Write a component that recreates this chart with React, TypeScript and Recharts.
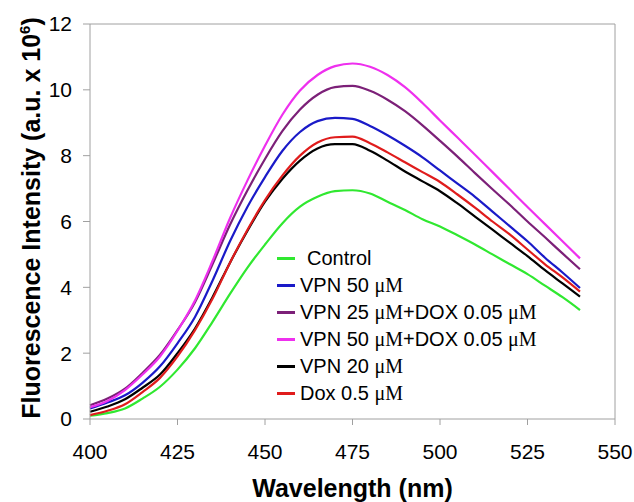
import { LineChart, Line, XAxis, YAxis, Legend, ReferenceLine } from "recharts";

// emission spectra, values (a.u. x 10^6)
const wavelengths = [400, 405, 410, 415, 420, 425, 430, 435, 440, 445, 450, 455, 460, 465, 470, 475, 480, 485, 490, 495, 500, 505, 510, 515, 520, 525, 530, 535, 540];
const control = [0.1, 0.18, 0.32, 0.62, 0.98, 1.5, 2.15, 2.95, 3.8, 4.6, 5.3, 5.95, 6.45, 6.75, 6.92, 6.95, 6.85, 6.6, 6.35, 6.07, 5.85, 5.58, 5.3, 5.0, 4.7, 4.4, 4.05, 3.7, 3.31];
const vpn50 = [0.32, 0.5, 0.72, 1.1, 1.6, 2.3, 3.1, 4.2, 5.4, 6.45, 7.35, 8.15, 8.72, 9.05, 9.15, 9.12, 8.9, 8.62, 8.3, 7.95, 7.55, 7.15, 6.75, 6.3, 5.85, 5.4, 4.9, 4.45, 3.98];
const vpn25Dox = [0.42, 0.62, 0.92, 1.4, 1.95, 2.7, 3.55, 4.7, 5.9, 6.95, 7.9, 8.75, 9.4, 9.85, 10.08, 10.12, 9.97, 9.7, 9.35, 8.92, 8.45, 7.97, 7.47, 6.98, 6.5, 6.0, 5.52, 5.03, 4.55];
const vpn50Dox = [0.36, 0.55, 0.88, 1.35, 1.9, 2.68, 3.6, 4.8, 6.1, 7.25, 8.3, 9.25, 9.98, 10.45, 10.72, 10.8, 10.7, 10.45, 10.08, 9.6, 9.07, 8.55, 8.03, 7.5, 6.97, 6.44, 5.92, 5.4, 4.88];
const vpn20 = [0.22, 0.38, 0.6, 0.95, 1.35, 2.0, 2.75, 3.7, 4.75, 5.72, 6.6, 7.3, 7.85, 8.22, 8.35, 8.35, 8.15, 7.85, 7.52, 7.22, 6.92, 6.55, 6.15, 5.75, 5.35, 4.95, 4.52, 4.12, 3.72];
const dox05 = [0.12, 0.25, 0.45, 0.82, 1.25, 1.9, 2.7, 3.65, 4.75, 5.75, 6.65, 7.4, 8.0, 8.4, 8.56, 8.58, 8.38, 8.1, 7.8, 7.5, 7.2, 6.82, 6.42, 6.0, 5.6, 5.15, 4.7, 4.3, 3.87];

const seriesNames = ["Control", "VPN 50 μM", "VPN 25 μM+DOX 0.05 μM", "VPN 50 μM+DOX 0.05 μM", "VPN 20 μM", "Dox 0.5 μM"];
const seriesColors = ["#30e830", "#1a1ac8", "#7c2078", "#ee30ee", "#000000", "#e01c1c"];
const seriesValues = [control, vpn50, vpn25Dox, vpn50Dox, vpn20, dox05];

const xTicks = [400, 425, 450, 475, 500, 525, 550];
const yTicks = [0, 2, 4, 6, 8, 10, 12];

const FONT = "Arial, 'Liberation Sans', Helvetica, sans-serif";
const AXIS = "#a0a0a0";

const rows = wavelengths.map((w, i) => {
  const r: Record<string, number> = { w };
  seriesValues.forEach((s, k) => (r["s" + k] = s[i]));
  return r;
});

// the μM parts are set in a serif face, as in the original figure
function LegendName({ text }: { text: string }) {
  const parts = text.split("μM");
  return (
    <span>
      {parts.map((p, i) => (
        <span key={i}>
          {p}
          {i < parts.length - 1 && <span style={{ fontFamily: "'Liberation Serif', 'Times New Roman', serif" }}>μM</span>}
        </span>
      ))}
    </span>
  );
}

// keep the legend in series order (recharts sorts the payload by name)
function renderLegend() {
  return (
    <div style={{ fontFamily: FONT, fontSize: 20, color: "#000" }}>
      {seriesNames.map((name, i) => (
        <div key={name} style={{ display: "flex", alignItems: "center", height: 27, whiteSpace: "nowrap" }}>
          <span style={{ display: "inline-block", width: 18, height: 3, background: seriesColors[i], marginRight: i === 0 ? 12 : 5 }} />
          <LegendName text={name} />
        </div>
      ))}
    </div>
  );
}

function YTitle() {
  return (
    <text transform="translate(40,218) rotate(-90)" textAnchor="middle" fontFamily={FONT} fontWeight="bold" fontSize={25} fill="#000">
      Fluorescence Intensity (a.u. x 10
      <tspan dy={-10} fontSize={15}>6</tspan>
      <tspan dy={10}>)</tspan>
    </text>
  );
}

export default function App() {
  return (
    <div style={{ position: "absolute", left: 0, top: 0, background: "#fff" }}>
      <LineChart width={634} height={502} data={rows} margin={{ top: 24, right: 19, left: 0, bottom: 0 }}>
        <XAxis
          dataKey="w"
          type="number"
          domain={[400, 550]}
          ticks={xTicks}
          height={83}
          stroke={AXIS}
          tickSize={6}
          tickMargin={19}
          tick={{ fill: "#000", fontSize: 21, fontFamily: FONT }}
          label={{ value: "Wavelength (nm)", position: "insideBottom", offset: 5, fill: "#000", fontSize: 25, fontWeight: "bold", fontFamily: FONT }}
        />
        <YAxis
          type="number"
          domain={[0, 12]}
          ticks={yTicks}
          width={90}
          stroke={AXIS}
          tickSize={7}
          tickMargin={11}
          tick={{ fill: "#000", fontSize: 21, fontFamily: FONT }}
          label={{ content: () => <YTitle /> }}
        />
        <ReferenceLine y={12} stroke={AXIS} />
        <ReferenceLine x={550} stroke={AXIS} />
        {seriesNames.map((name, k) => (
          <Line
            key={name}
            dataKey={"s" + k}
            name={name}
            type="monotone"
            stroke={seriesColors[k]}
            strokeWidth={2.2}
            dot={false}
            isAnimationActive={false}
          />
        ))}
        <Legend
          layout="vertical"
          align="center"
          verticalAlign="middle"
          content={renderLegend}
          wrapperStyle={{ position: "absolute", left: 277, top: 245, width: 300 }}
        />
      </LineChart>
    </div>
  );
}
